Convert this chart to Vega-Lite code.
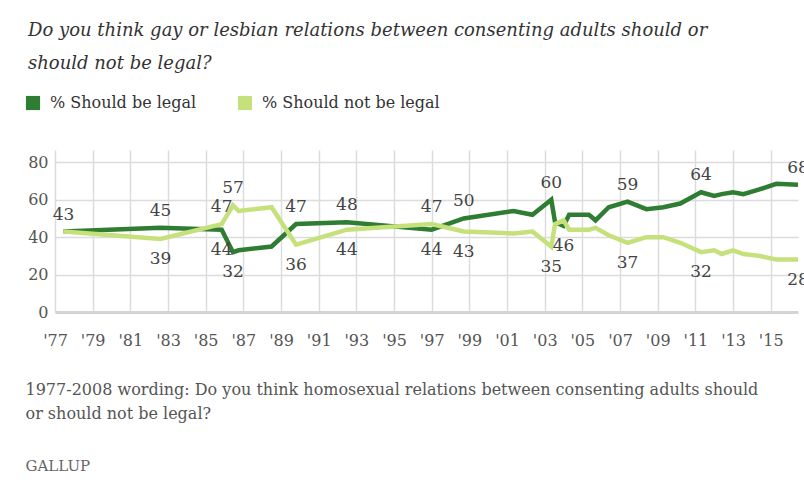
{
  "$schema": "https://vega.github.io/schema/vega-lite/v6.json",
  "width": 743,
  "height": 162,
  "autosize": {"type": "none"},
  "padding": {"left": 55, "top": 150, "right": 6, "bottom": 171},
  "background": "white",
  "config": {"font": "DejaVu Serif", "view": {"stroke": null}},
  "title": {
    "text": ["Do you think gay or lesbian relations between consenting adults should or", "should not be legal?"],
    "anchor": "start",
    "frame": "group",
    "font": "DejaVu Serif",
    "fontStyle": "italic",
    "fontWeight": "normal",
    "fontSize": 18,
    "color": "#333333",
    "lineHeight": 33,
    "offset": 22,
    "dx": -27
  },
  "datasets": {
    "series": [
      {"year": 1977.45, "legal": 43, "notlegal": 43},
      {"year": 1982.6, "legal": 45, "notlegal": 39},
      {"year": 1985.85, "legal": 44, "notlegal": 47},
      {"year": 1986.45, "legal": 32, "notlegal": 57},
      {"year": 1986.75, "legal": 33, "notlegal": 54},
      {"year": 1988.5, "legal": 35, "notlegal": 56},
      {"year": 1989.8, "legal": 47, "notlegal": 36},
      {"year": 1992.5, "legal": 48, "notlegal": 44},
      {"year": 1997.0, "legal": 44, "notlegal": 47},
      {"year": 1998.7, "legal": 50, "notlegal": 43},
      {"year": 2001.35, "legal": 54, "notlegal": 42},
      {"year": 2002.35, "legal": 52, "notlegal": 43},
      {"year": 2003.35, "legal": 60, "notlegal": 35},
      {"year": 2003.55, "legal": 48, "notlegal": 47},
      {"year": 2004.0, "legal": 46, "notlegal": 49},
      {"year": 2004.3, "legal": 52, "notlegal": 44},
      {"year": 2005.35, "legal": 52, "notlegal": 44},
      {"year": 2005.7, "legal": 49, "notlegal": 45},
      {"year": 2006.4, "legal": 56, "notlegal": 41},
      {"year": 2007.4, "legal": 59, "notlegal": 37},
      {"year": 2008.4, "legal": 55, "notlegal": 40},
      {"year": 2009.3, "legal": 56, "notlegal": 40},
      {"year": 2010.2, "legal": 58, "notlegal": 37},
      {"year": 2011.3, "legal": 64, "notlegal": 32},
      {"year": 2012.0, "legal": 62, "notlegal": 33},
      {"year": 2012.4, "legal": 63, "notlegal": 31},
      {"year": 2013.0, "legal": 64, "notlegal": 33},
      {"year": 2013.55, "legal": 63, "notlegal": 31},
      {"year": 2014.4, "legal": 65.5, "notlegal": 30},
      {"year": 2015.3, "legal": 68.5, "notlegal": 28},
      {"year": 2016.45, "legal": 68, "notlegal": 28}
    ],
    "labels": [
      {"year": 1977.45, "value": 43, "side": "above"},
      {"year": 1982.6, "value": 45, "side": "above"},
      {"year": 1982.6, "value": 39, "side": "below"},
      {"year": 1985.85, "value": 47, "side": "above"},
      {"year": 1985.85, "value": 44, "side": "below"},
      {"year": 1986.45, "value": 57, "side": "above"},
      {"year": 1986.45, "value": 32, "side": "below"},
      {"year": 1989.8, "value": 47, "side": "above"},
      {"year": 1989.8, "value": 36, "side": "below"},
      {"year": 1992.5, "value": 48, "side": "above"},
      {"year": 1992.5, "value": 44, "side": "below"},
      {"year": 1997.0, "value": 47, "side": "above"},
      {"year": 1997.0, "value": 44, "side": "below"},
      {"year": 1998.7, "value": 50, "side": "above"},
      {"year": 1998.7, "value": 43, "side": "below"},
      {"year": 2003.35, "value": 60, "side": "above"},
      {"year": 2003.35, "value": 35, "side": "below"},
      {"year": 2004.0, "value": 46, "side": "below"},
      {"year": 2007.4, "value": 59, "side": "above"},
      {"year": 2007.4, "value": 37, "side": "below"},
      {"year": 2011.3, "value": 64, "side": "above"},
      {"year": 2011.3, "value": 32, "side": "below"},
      {"year": 2016.45, "value": 68, "side": "above"},
      {"year": 2016.45, "value": 28, "side": "below"}
    ]
  },
  "encoding": {
    "x": {
      "field": "year",
      "type": "quantitative",
      "scale": {"domain": [1977, 2016.45], "nice": false, "zero": false},
      "axis": {
        "values": [1977, 1979, 1981, 1983, 1985, 1987, 1989, 1991, 1993, 1995, 1997, 1999, 2001, 2003, 2005, 2007, 2009, 2011, 2013, 2015],
        "labelExpr": "\"'\" + slice(toString(datum.value), 2)",
        "labelFlush": false,
        "labelOverlap": false,
        "labelBound": false,
        "labelSeparation": 0,
        "grid": true,
        "gridColor": "#dcdcdc",
        "gridWidth": 1.5,
        "domain": true,
        "domainColor": "#d4d4d4",
        "domainWidth": 3,
        "ticks": false,
        "labelFont": "DejaVu Serif",
        "labelFontSize": 16,
        "labelColor": "#555555",
        "labelPadding": 20,
        "title": ["1977-2008 wording: Do you think homosexual relations between consenting adults should", "or should not be legal?"],
        "titleX": -30,
        "titleY": 69,
        "titleAlign": "left",
        "titleBaseline": "top",
        "titleFont": "DejaVu Serif",
        "titleFontSize": 16,
        "titleFontWeight": "normal",
        "titleColor": "#555555",
        "titleLineHeight": 24
      }
    },
    "y": {
      "field": "value",
      "type": "quantitative",
      "scale": {"domain": [0, 86.6], "nice": false},
      "axis": {
        "values": [0, 20, 40, 60, 80],
        "grid": true,
        "gridColor": "#dcdcdc",
        "gridWidth": 1.5,
        "domain": false,
        "ticks": false,
        "labelFont": "DejaVu Serif",
        "labelFontSize": 16,
        "labelColor": "#555555",
        "labelPadding": 7,
        "title": "GALLUP",
        "titleAngle": 0,
        "titleX": -30,
        "titleY": 315,
        "titleAlign": "left",
        "titleBaseline": "middle",
        "titleFont": "DejaVu Serif",
        "titleFontSize": 15,
        "titleFontWeight": "normal",
        "titleColor": "#666666"
      }
    }
  },
  "layer": [
    {
      "data": {"name": "series"},
      "transform": [{"fold": ["legal", "notlegal"], "as": ["key", "value"]}],
      "mark": {"type": "line", "strokeWidth": 4.5, "clip": false},
      "encoding": {
        "color": {
          "field": "key",
          "type": "nominal",
          "scale": {"domain": ["legal", "notlegal"], "range": ["#2f7d32", "#c6e07c"]},
          "legend": {
            "orient": "none",
            "legendX": -30,
            "legendY": -55,
            "direction": "horizontal",
            "title": null,
            "symbolType": "square",
            "symbolSize": 200,
            "symbolStrokeWidth": 0,
            "labelFont": "DejaVu Serif",
            "labelFontSize": 16,
            "labelColor": "#333333",
            "labelOffset": 9,
            "labelLimit": 0,
            "columnPadding": 40,
            "labelExpr": "datum.label == 'legal' ? '% Should be legal' : '% Should not be legal'",
            "encode": {"symbols": {"update": {"fill": {"scale": "color", "field": "value"}, "fillOpacity": {"value": 1}}}}
          }
        }
      }
    },
    {
      "data": {"name": "labels"},
      "transform": [{"filter": "datum.side == 'above'"}],
      "mark": {"type": "text", "font": "DejaVu Serif", "fontSize": 17, "color": "#444444", "baseline": "middle", "dy": -17, "clip": false},
      "encoding": {
        "text": {"field": "value", "type": "quantitative"}
      }
    },
    {
      "data": {"name": "labels"},
      "transform": [{"filter": "datum.side == 'below'"}],
      "mark": {"type": "text", "font": "DejaVu Serif", "fontSize": 17, "color": "#444444", "baseline": "middle", "dy": 20, "clip": false},
      "encoding": {
        "text": {"field": "value", "type": "quantitative"}
      }
    }
  ]
}
